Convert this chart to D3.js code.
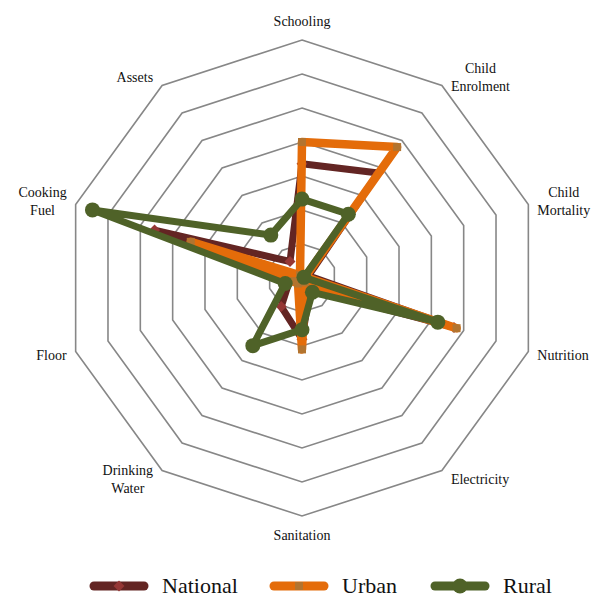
<!DOCTYPE html>
<meta charset="utf-8">
<style>
    body { margin: 0; background: #fff; }
    text { font-family: "Liberation Serif", "DejaVu Serif", serif; fill: #111; }
    .grid { fill: none; stroke: #878787; stroke-width: 1.6; }
    .series { fill: none; stroke-linejoin: round; stroke-linecap: round; }
</style>
<body>
<script src="https://cdn.jsdelivr.net/npm/d3@7"></script>
<script>

    var axes = ["Schooling", "Child Enrolment", "Child Mortality", "Nutrition", "Electricity",
                "Sanitation", "Drinking Water", "Floor", "Cooking Fuel", "Assets"];

    var labelLines = [["Schooling"], ["Child", "Enrolment"], ["Child", "Mortality"], ["Nutrition"], ["Electricity"],
                      ["Sanitation"], ["Drinking", "Water"], ["Floor"], ["Cooking", "Fuel"], ["Assets"]];

    var ringTicks = [0.05, 0.10, 0.15, 0.20, 0.25, 0.30, 0.35];

    var national = [0.168, 0.191, 0.010, 0.235, 0.020, 0.090, 0.052, 0.020, 0.228, 0.030];
    var urban    = [0.200, 0.238, 0.005, 0.239, 0.008, 0.105, 0.010, 0.015, 0.172, 0.005];
    var rural    = [0.116, 0.116, 0.003, 0.210, 0.026, 0.076, 0.123, 0.026, 0.324, 0.078];

    var seriesNames = ["National", "Urban", "Rural"];

    var width = 595, height = 598;
    var cx = 302, cy = 278, R = 238;

    var svg = d3.select("body").append("svg")
            .attr("width", width)
            .attr("height", height);

    var r = d3.scaleLinear().domain([0, 0.35]).range([0, R]);
    var angle = function(i) { return i * 2 * Math.PI / axes.length; };

    var g = svg.append("g").attr("transform", "translate(" + cx + "," + cy + ")");

    // rings
    var ring = d3.lineRadial()
            .angle(function(d, i) { return angle(i); })
            .curve(d3.curveLinearClosed);

    g.selectAll("path.grid")
            .data(ringTicks)
            .enter().append("path")
            .attr("class", "grid")
            .attr("d", function(t) { return ring.radius(r(t))(axes.map(function() { return 0; })); });

    // axis labels
    labelLines.forEach(function(lines, i) {
        var a = angle(i), s = Math.sin(a), c = Math.cos(a);
        var vx = R * s, vy = -R * c;
        var lg = g.append("g").attr("font-size", 14);
        var lineH = 18;
        var txt = lg.selectAll("text").data(lines).enter().append("text")
                .attr("text-anchor", "middle")
                .attr("dy", "0.35em")
                .attr("y", function(d, k) { return (k - (lines.length - 1) / 2) * lineH; })
                .text(function(d) { return d; });
        var w = d3.max(txt.nodes(), function(n) { return n.getComputedTextLength(); });
        var x, y;
        if (Math.abs(s) < 0.1) {
            x = vx;
            y = vy - 19 * c;
        } else {
            x = vx + (s > 0 ? 9 + w / 2 : -9 - w / 2);
            y = vy - 10 * c;
        }
        lg.attr("transform", "translate(" + x + "," + y + ")");
    });

    var styles = {
        National: {stroke: "#632523", width: 7, marker: "diamond", fill: "#953735", size: 9},
        Urban:    {stroke: "#E46C0A", width: 8.5, marker: "square", fill: "#B3742F", size: 8},
        Rural:    {stroke: "#4F6228", width: 7, marker: "circle", fill: "#4F6228", size: 7.5}
    };
    var data = {National: national, Urban: urban, Rural: rural};

    var radial = d3.lineRadial()
            .angle(function(d, i) { return angle(i); })
            .radius(function(d) { return r(d); })
            .curve(d3.curveLinearClosed);

    function marker(sel, st) {
        if (st.marker === "circle") {
            sel.append("circle").attr("r", st.size).attr("fill", st.fill);
        } else if (st.marker === "square") {
            sel.append("rect").attr("x", -st.size / 2).attr("y", -st.size / 2)
                    .attr("width", st.size).attr("height", st.size).attr("fill", st.fill);
        } else {
            var h = st.size / 2 + 1;
            sel.append("path").attr("d", "M0," + (-h) + "L" + h + ",0L0," + h + "L" + (-h) + ",0Z")
                    .attr("fill", st.fill);
        }
    }

    seriesNames.forEach(function(name) {
        var st = styles[name], vals = data[name];
        g.append("path")
                .attr("class", "series")
                .attr("stroke", st.stroke)
                .attr("stroke-width", st.width)
                .attr("d", radial(vals));
        g.selectAll("g.pt-" + name)
                .data(vals)
                .enter().append("g")
                .attr("class", "pt-" + name)
                .attr("transform", function(d, i) {
                    var a = angle(i);
                    return "translate(" + (r(d) * Math.sin(a)) + "," + (-r(d) * Math.cos(a)) + ")";
                })
                .each(function() { marker(d3.select(this), st); });
    });

    // legend
    var legendX = [90, 270, 431];
    var legend = svg.append("g").attr("transform", "translate(0,586)");
    seriesNames.forEach(function(name, i) {
        var st = styles[name];
        var lg = legend.append("g").attr("transform", "translate(" + legendX[i] + ",0)");
        lg.append("line")
                .attr("x1", 4).attr("x2", 54)
                .attr("stroke", st.stroke)
                .attr("stroke-width", 9)
                .attr("stroke-linecap", "round");
        marker(lg.append("g").attr("transform", "translate(29,0)"), st);
        lg.append("text")
                .attr("x", 72)
                .attr("dy", "0.3em")
                .attr("font-size", 22)
                .text(name);
    });

</script>
</body>
